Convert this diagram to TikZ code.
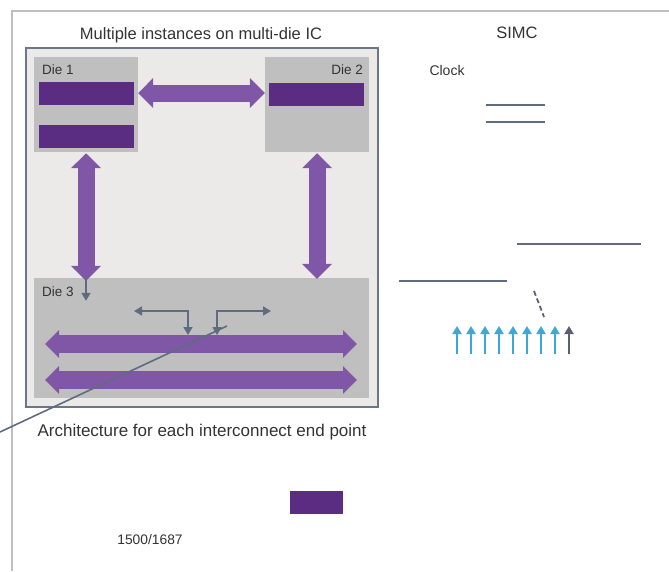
\documentclass[tikz,border=0pt]{standalone}
\usepackage{fontspec}
\setmainfont{Liberation Sans}
\usetikzlibrary{arrows.meta,positioning}
\definecolor{framegray}{HTML}{BEBEBE}
\definecolor{boxfill}{HTML}{EBEAE9}
\definecolor{boxline}{HTML}{6B7789}
\definecolor{diegray}{HTML}{BFBFBF}
\definecolor{barpurple}{HTML}{5B2D82}
\definecolor{linkpurple}{HTML}{8057A6}
\definecolor{wire}{HTML}{5F6C80}
\definecolor{pinblue}{HTML}{3FA6D8}
\definecolor{pindark}{HTML}{5B6070}
\definecolor{txt}{HTML}{333333}
\begin{document}
\begin{tikzpicture}[x=1pt, y=-1pt,
    die/.style={fill=diegray, inner sep=0pt, minimum width=104pt, minimum height=95pt},
    bar/.style={fill=barpurple, inner sep=0pt, minimum width=95pt, minimum height=23pt},
    link/.style={draw=linkpurple, line width=17pt,
      {Triangle[width=29pt,length=15pt]}-{Triangle[width=29pt,length=15pt]}},
    wirearrow/.style={draw=wire, line width=1.6pt},
    tip/.style={Triangle[width=9pt,length=8pt]},
    pin/.style={line width=2pt, -{Triangle[width=9pt,length=8pt]}},
    lbl/.style={text=txt, inner sep=0pt},
    big/.style={lbl, font=\fontsize{16.5}{18}\selectfont},
    small/.style={lbl, font=\fontsize{13.5}{15}\selectfont}]
  \useasboundingbox (0,0) rectangle (669,571);

  % outer frame
  \draw[framegray, line width=2pt] (12,571) -- (12,11) -- (669,11);

  % multi-die package
  \node[big] (title) at (201,35) {Multiple instances on multi-die IC};
  \node[draw=boxline, fill=boxfill, line width=1.5pt, inner sep=0pt,
        minimum width=352pt, minimum height=359pt] (pkg) at (202,227.5) {};
  \node[die] (die1) at (86,104.5) {};
  \node[die] (die2) at (317,104.5) {};
  \node[die, minimum width=335pt, minimum height=120pt] (die3) at (201.5,338) {};
  \node[small, anchor=west] at (42,70) {Die 1};
  \node[small, anchor=east] at (363,70) {Die 2};
  \node[small, anchor=west] at (42,292) {Die 3};

  \node[bar] (b1) at (86.5,93.5) {};
  \node[bar] (b2) at (86.5,136.5) {};
  \node[bar] (b3) at (316.5,94.5) {};

  % links between dies
  \draw[link] (die1.east |- 0,93) -- (die2.west |- 0,93);
  \draw[link, shorten <=1pt] (die1.south) -- ([yshift=-3pt]die3.north -| die1.south);
  \draw[link, shorten <=1pt] (die2.south) -- ([yshift=-1pt]die3.north -| die2.south);

  % routing inside die 3
  \coordinate (r1w) at (45,344);
  \coordinate (r1e) at (357,344);
  \coordinate (r2w) at (45,380);
  \coordinate (r2e) at (357,380);
  \draw[link, line width=18pt, {Triangle[width=27pt,length=14pt]}-{Triangle[width=27pt,length=14pt]}] (r1w) -- (r1e);
  \draw[link, line width=18pt, {Triangle[width=27pt,length=14pt]}-{Triangle[width=27pt,length=14pt]}] (r2w) -- (r2e);

  \draw[wirearrow, -{Triangle[width=9pt,length=8pt]}] (die3.north -| die1.south) -- ++(0,23);
  \draw[wirearrow, {Triangle[width=9pt,length=8pt]}-{Triangle[width=9pt,length=8pt]}]
    (134,311) -- (188,311) -- (188,335);
  \draw[wirearrow, {Triangle[width=9pt,length=8pt]}-{Triangle[width=9pt,length=8pt]}]
    (217,335) -- (217,311) -- (271,311);
  \coordinate (lead) at (0,432);
  \coordinate (tap) at (227,326);
  \draw[wirearrow] (lead) -- (tap);

  \node[lbl, font=\fontsize{17}{19}\selectfont] (arch) at (202,432) {Architecture for each interconnect end point};
  \node[fill=barpurple, inner sep=0pt, minimum width=53pt, minimum height=23pt] (key) at (316.5,502.5) {};
  \node[lbl, font=\fontsize{13.8}{15}\selectfont] (ratio) at (150,540) {1500/1687};

  % SIMC side
  \node[big] (simc) at (517,33) {SIMC};
  \node[lbl, font=\fontsize{14}{16}\selectfont] (clock) at (447,70) {Clock};
  \draw[wire, line width=2pt] (486,105) -- (545,105);
  \draw[wire, line width=2pt] (486,122) -- (545,122);
  \draw[wire, line width=2pt] (517,244) -- (641,244);
  \draw[wire, line width=2pt] (399,281) -- (507,281);
  \draw[pindark, line width=1.8pt, dash pattern=on 5pt off 3pt] (534,291) -- (544,317);
  \foreach \i in {0,...,7}
    \draw[pin, pinblue] (457+14*\i,354) -- ++(0,-28);
  \draw[pin, pindark] (569,354) -- ++(0,-28);
\end{tikzpicture}
\end{document}
